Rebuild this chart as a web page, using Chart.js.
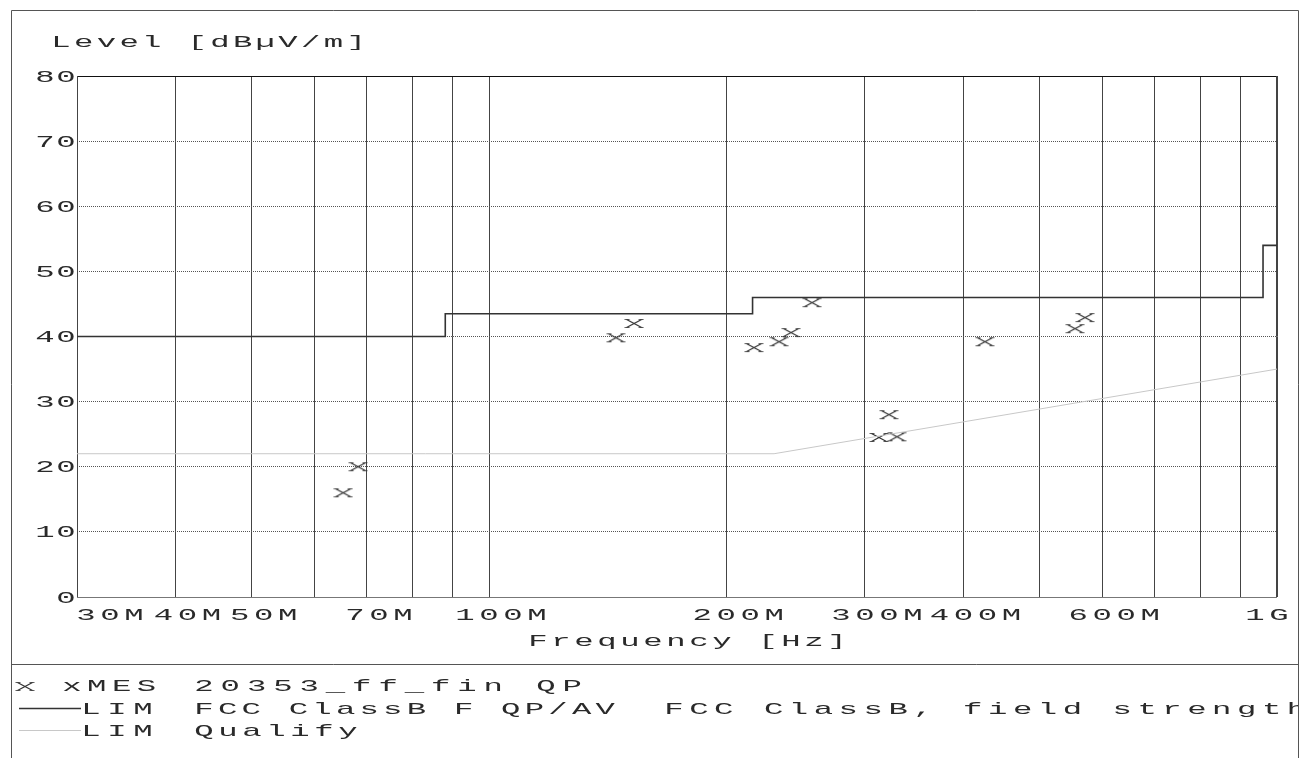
<!DOCTYPE html>
<html>
<head>
<meta charset="utf-8">
<title>Level</title>
<script src="https://cdn.jsdelivr.net/npm/chart.js@4/dist/chart.umd.min.js"></script>
<style>
  html, body { margin: 0; padding: 0; background: #fff; }
  canvas { display: block; }
</style>
</head>
<body>
<canvas id="myChart" width="1309" height="758"></canvas>
<script>
// measured points (MHz, dBuV/m)
const mesFreq = [65.3, 68.2, 144.9, 152.8, 216.9, 233.4, 241.7, 257.0, 312.5, 321.8, 329.4, 426.0, 554.2, 570.7];
const mesLevel = [16.0, 20.0, 39.8, 42.0, 38.3, 39.2, 40.6, 45.2, 24.5, 28.0, 24.6, 39.2, 41.2, 42.9];

// FCC class B limit (stepped)
const limFreq = [30, 88, 216, 960, 1000];
const limLevel = [40, 43.5, 46, 54, 54];

// qualify line
const qualFreq = [30, 230, 1000];
const qualLevel = [22, 22, 35];

// axes
const gridFreqs = [30, 40, 50, 60, 70, 80, 90, 100, 200, 300, 400, 500, 600, 700, 800, 900, 1000];
const xTickValues = [30, 40, 50, 70, 100, 200, 300, 400, 600, 1000];
const xTickLabels = ["30M", "40M", "50M", "70M", "100M", "200M", "300M", "400M", "600M", "1G"];
const yTickValues = [0, 10, 20, 30, 40, 50, 60, 70, 80];

const FONT = "17px 'Liberation Mono'";
const SX = 1.9;
const INK = "#2a2a2a";

// draws text one char at a time, stretched wide like the plotter font
function drawMono(ctx, text, x0, y, adv) {
    ctx.save();
    ctx.font = FONT;
    ctx.fillStyle = INK;
    ctx.textAlign = "center";
    ctx.textBaseline = "alphabetic";
    [...text].forEach(function (ch, i) {
        ctx.save();
        ctx.translate(x0 + i * adv, y);
        ctx.scale(SX, 1);
        ctx.fillText(ch, 0, 0);
        ctx.restore();
    });
    ctx.restore();
}

// x marker like the plotter's "x"
const mark = document.createElement("canvas");
mark.width = 20;
mark.height = 11;
(function () {
    const c = mark.getContext("2d");
    c.strokeStyle = "#333";
    c.lineWidth = 1.2;
    c.beginPath();
    c.moveTo(2.5, 1.5); c.lineTo(17.5, 9.5);
    c.moveTo(2.5, 9.5); c.lineTo(17.5, 1.5);
    c.stroke();
    c.beginPath();
    c.moveTo(0.5, 1.5); c.lineTo(5.5, 1.5);
    c.moveTo(14.5, 1.5); c.lineTo(19.5, 1.5);
    c.moveTo(0.5, 9.5); c.lineTo(5.5, 9.5);
    c.moveTo(14.5, 9.5); c.lineTo(19.5, 9.5);
    c.lineWidth = 0.8;
    c.stroke();
})();

const toXY = (xs, ys) => xs.map((x, i) => ({ x: x, y: ys[i] }));

const framePlugin = {
    id: "frame",
    beforeDatasetsDraw(chart) {
        const ctx = chart.ctx;
        const a = chart.chartArea;
        ctx.save();
        ctx.lineWidth = 1;
        ctx.strokeStyle = "#111";
        ctx.beginPath();
        ctx.moveTo(a.left, a.top + 0.5);
        ctx.lineTo(a.right, a.top + 0.5);
        ctx.stroke();
        ctx.strokeStyle = "#444";
        ctx.beginPath();
        ctx.moveTo(a.left + 0.5, a.top);
        ctx.lineTo(a.left + 0.5, a.bottom);
        ctx.moveTo(a.right - 0.5, a.top);
        ctx.lineTo(a.right - 0.5, a.bottom);
        ctx.stroke();
        ctx.strokeStyle = "#777";
        ctx.beginPath();
        ctx.moveTo(a.left, a.bottom + 0.5);
        ctx.lineTo(a.right, a.bottom + 0.5);
        ctx.stroke();
        ctx.restore();
    },
    afterDraw(chart) {
        const ctx = chart.ctx;
        const xs = chart.scales.x;
        const ys = chart.scales.y;

        // outer box and legend separator
        ctx.save();
        ctx.strokeStyle = "#555";
        ctx.lineWidth = 1;
        ctx.beginPath();
        ctx.moveTo(11.5, 758);
        ctx.lineTo(11.5, 10.5);
        ctx.lineTo(1298.5, 10.5);
        ctx.lineTo(1298.5, 758);
        ctx.moveTo(11.5, 664.5);
        ctx.lineTo(1298.5, 664.5);
        ctx.stroke();
        ctx.restore();

        // titles
        drawMono(ctx, "Level [dBµV/m]", 61, 47, 22.7);
        drawMono(ctx, "Frequency [Hz]", 538, 646, 23);

        // y tick labels
        yTickValues.forEach(function (v) {
            const s = String(v);
            const py = ys.getPixelForValue(v);
            drawMono(ctx, s, 66 - (s.length - 1) * 21, py + 5.5, 21);
        });

        // x tick labels
        const adv = 24;
        xTickValues.forEach(function (v, i) {
            const s = xTickLabels[i];
            const px = xs.getPixelForValue(v);
            let x0 = px + 12 - (s.length - 1) * adv / 2;
            if (i === 0) x0 = 86;
            if (i === xTickValues.length - 1) x0 = 1279 - (s.length - 1) * adv;
            drawMono(ctx, s, x0, 620, adv);
        });

        // legend
        ctx.save();
        ctx.beginPath();
        ctx.rect(12, 665, 1286, 93);
        ctx.clip();
        ctx.drawImage(mark, 15, 681);
        drawMono(ctx, "xMES", 72, 691, 24.8);
        drawMono(ctx, "20353_ff_fin QP", 204, 691, 26.3);

        ctx.strokeStyle = "#333";
        ctx.lineWidth = 1.5;
        ctx.beginPath();
        ctx.moveTo(19, 708.5);
        ctx.lineTo(81, 708.5);
        ctx.stroke();
        drawMono(ctx, "LIM", 91, 714, 26);
        drawMono(ctx, "FCC ClassB F QP/AV", 204, 714, 23.6);
        drawMono(ctx, "FCC ClassB, field strength", 674, 714, 24.9);

        ctx.strokeStyle = "#c8c8c8";
        ctx.lineWidth = 1;
        ctx.beginPath();
        ctx.moveTo(19, 730.5);
        ctx.lineTo(81, 730.5);
        ctx.stroke();
        drawMono(ctx, "LIM", 91, 736, 26);
        drawMono(ctx, "Qualify", 204, 736, 24);
        ctx.restore();
    }
};

const data = {
    datasets: [
        {
            label: "Qualify",
            data: toXY(qualFreq, qualLevel),
            showLine: true,
            borderColor: "#c8c8c8",
            borderWidth: 1,
            pointRadius: 0,
            fill: false
        },
        {
            label: "FCC ClassB F QP/AV",
            data: toXY(limFreq, limLevel),
            showLine: true,
            stepped: "before",
            borderColor: "#333",
            borderWidth: 1.6,
            pointRadius: 0,
            fill: false
        },
        {
            label: "20353_ff_fin QP",
            data: toXY(mesFreq, mesLevel),
            showLine: false,
            pointStyle: mark,
            pointRadius: 6,
            pointHoverRadius: 6
        }
    ]
};

const config = {
    type: "scatter",
    data: data,
    options: {
        responsive: false,
        animation: false,
        devicePixelRatio: 1,
        layout: { padding: { left: 77, top: 76, right: 32, bottom: 161 } },
        plugins: {
            legend: { display: false },
            tooltip: { enabled: false }
        },
        scales: {
            x: {
                type: "logarithmic",
                min: 30,
                max: 1000,
                afterBuildTicks: function (scale) {
                    scale.ticks = gridFreqs.map(function (v) { return { value: v }; });
                },
                afterFit: function (scale) { scale.height = 0; },
                ticks: { display: false },
                grid: { color: "#444", lineWidth: 1, drawTicks: false },
                border: { display: false }
            },
            y: {
                min: 0,
                max: 80,
                afterBuildTicks: function (scale) {
                    scale.ticks = yTickValues.map(function (v) { return { value: v }; });
                },
                afterFit: function (scale) { scale.width = 0; },
                ticks: { display: false },
                grid: { color: "#555", lineWidth: 1, drawTicks: false },
                border: { display: false, dash: [1, 1] }
            }
        }
    },
    plugins: [framePlugin]
};

const myChart = new Chart(document.getElementById("myChart"), config);
</script>
</body>
</html>
